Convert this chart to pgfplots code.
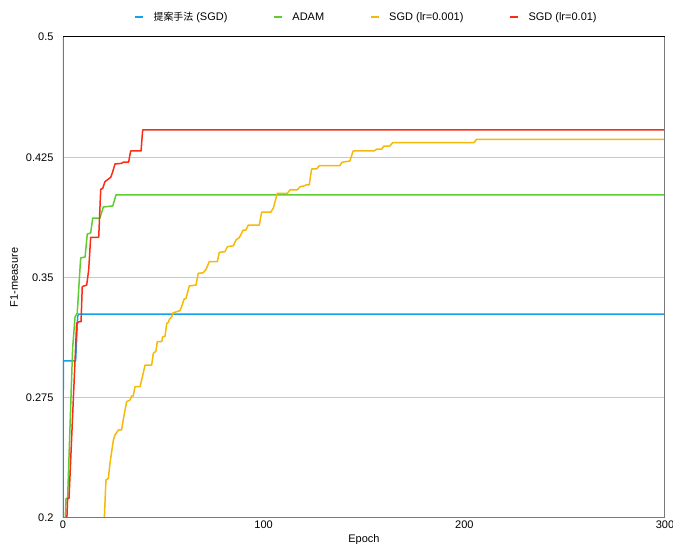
\documentclass[border=0pt]{standalone}
\usepackage{pgfplots}
\pgfplotsset{compat=1.18}
\usepackage{fontspec}
\setmainfont{Liberation Sans}
\newfontfamily\cjk[Scale=0.9]{Noto Sans CJK JP}
\definecolor{cblue}{RGB}{20,160,235}
\definecolor{cgreen}{RGB}{95,205,50}
\definecolor{cyellow}{RGB}{245,185,10}
\definecolor{cred}{RGB}{250,45,20}
\definecolor{cgrid}{RGB}{200,200,200}
\definecolor{caxis}{RGB}{120,120,120}
\begin{document}
\begin{tikzpicture}
\begin{axis}[
  at={(0,0)}, anchor=south west,
  scale only axis, width=602pt, height=481pt,
  xmin=0, xmax=300, ymin=0.2, ymax=0.5,
  xtick={0,100,200,300}, xticklabels={0,100,200,300},
  ytick={0.2,0.275,0.35,0.425,0.5},
  yticklabels={0.2,0.275,0.35,0.425,0.5},
  major tick length=0pt,
  ymajorgrids, grid style={cgrid, line width=1pt},
  axis line style={draw=none},
  tick label style={font=\fontsize{11}{13}\selectfont},
  yticklabel style={xshift=-6pt},
  xticklabel style={yshift=1pt},
  xlabel={Epoch}, ylabel={F1-measure},
  label style={font=\fontsize{11}{13}\selectfont},
  xlabel style={at={(axis description cs:0.5,-0.046)}, anchor=center},
  ylabel style={at={(axis description cs:-0.081,0.5)}, anchor=center},
  legend columns=4,
  legend style={draw=none, fill=none, at={(0.504,1.0416)}, anchor=center,
    font=\fontsize{11}{13}\selectfont,
    /tikz/every even column/.append style={column sep=44.5pt},
    /tikz/every odd column/.append style={column sep=8pt},
    nodes={inner xsep=1.5pt}},
  legend image code/.code={\draw[#1, line width=1.5pt] (0pt,0pt) -- (8pt,0pt);},
  every axis plot/.append style={line width=1.5pt, line join=round},
]
\addplot[cblue] coordinates {(0,0.19) (0.15,0.298) (6.3,0.298) (7.3,0.3256) (7.8,0.3272) (300,0.3272)};
\addlegendentry{{\cjk 提案手法} (SGD)}
\addplot[cgreen] coordinates {(1,0.195) (1.5,0.2123) (2.3,0.2123) (4.8,0.306) (6,0.3254) (7.1,0.3279) (8.8,0.3622) (11,0.3628) (12.1,0.3771) (13.8,0.3778) (14.8,0.3871) (18.4,0.3871) (20.1,0.394) (24.8,0.3946) (26.4,0.4015) (300,0.4015)};
\addlegendentry{ADAM}
\addplot[cyellow] coordinates {(20.6,0.2) (21.4,0.2237) (22.6,0.2247) (23.4,0.2341) (25.1,0.2486) (25.9,0.2517) (27.6,0.2549) (29.2,0.2549) (30,0.2611) (31.7,0.2725) (33.4,0.2736) (34.2,0.2761) (35,0.2761) (35.9,0.2819) (38.4,0.2819) (39.2,0.2861) (40.9,0.2954) (44.2,0.2954) (45,0.3027) (46.3,0.3040) (47,0.31) (49.2,0.31) (49.7,0.3131) (50.8,0.3131) (51.7,0.3214) (52.5,0.3220) (53,0.3239) (54.2,0.3256) (54.9,0.328) (58.3,0.3293) (59.1,0.3318) (60.3,0.3364) (61.3,0.337) (62.4,0.3422) (62.9,0.3447) (66.3,0.3453) (67.4,0.3526) (69.9,0.353) (71.3,0.3551) (72.9,0.3599) (76.9,0.3599) (77.9,0.3657) (80.7,0.3661) (81.9,0.3692) (84.9,0.3698) (86.2,0.3734) (87.8,0.3748) (89.8,0.3796) (91.2,0.3796) (92.3,0.3827) (97.8,0.3827) (99,0.3907) (103.5,0.3907) (104.8,0.3932) (106.8,0.4025) (111.8,0.4025) (113.1,0.4046) (116.7,0.4046) (118.1,0.4066) (120.1,0.4071) (121.1,0.4077) (122.7,0.4077) (123.9,0.4177) (126.4,0.4177) (127.7,0.4197) (138,0.4197) (138.9,0.4218) (143,0.4227) (144.6,0.4289) (155,0.4289) (156.3,0.43) (158.8,0.43) (159.9,0.432) (162.9,0.432) (164.3,0.4341) (204.8,0.4341) (206.1,0.4362) (300,0.4362)};
\addlegendentry{SGD (lr=0.001)}
\addplot[cred] coordinates {(1.8,0.195) (2.3,0.2123) (3,0.2123) (6.8,0.3214) (8,0.3224) (9,0.3224) (9.6,0.3443) (11.8,0.3453) (12.8,0.3547) (13.8,0.3751) (17.8,0.3751) (18.8,0.405) (19.8,0.4056) (20.9,0.4098) (22.6,0.4114) (23.8,0.4125) (24.8,0.416) (25.9,0.4208) (29.2,0.4212) (30,0.4219) (32.7,0.4219) (33.7,0.4289) (38.9,0.4289) (39.7,0.442) (300,0.442)};
\addlegendentry{SGD (lr=0.01)}
\draw[caxis, line width=1.5pt] (rel axis cs:0,1) -- (rel axis cs:0,0) -- (rel axis cs:1,0) -- (rel axis cs:1,1);
\draw[black, line width=1pt] (rel axis cs:0,1) -- (rel axis cs:1,1);
\end{axis}
\pgfresetboundingbox
\path[use as bounding box] (-63pt,-26pt) rectangle (610pt,518pt);
\end{tikzpicture}
\end{document}
